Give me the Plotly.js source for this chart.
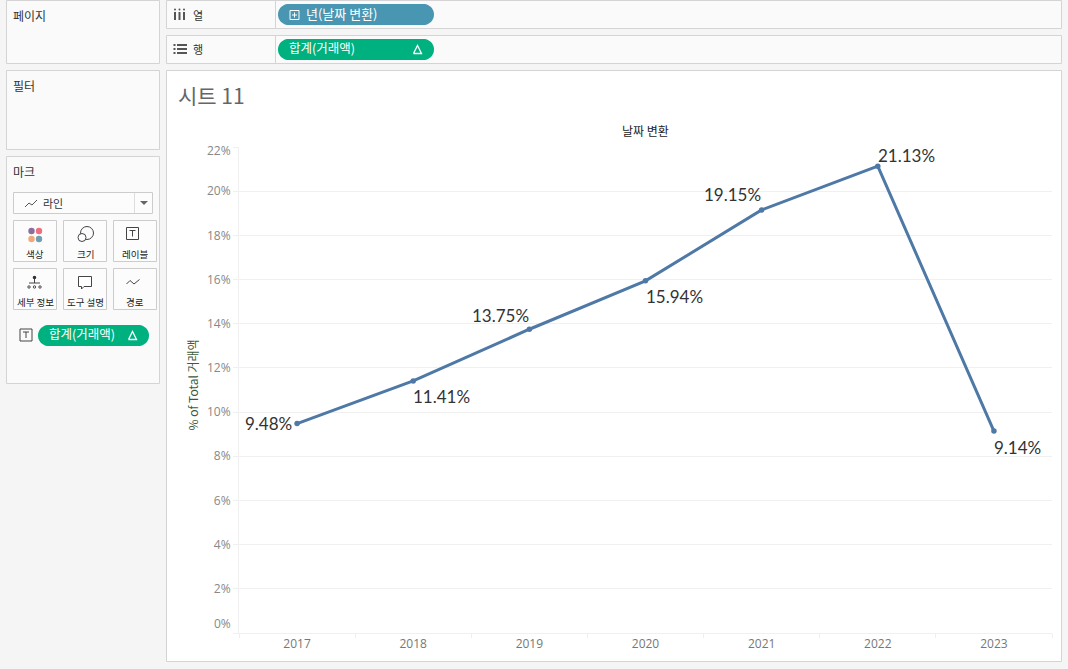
<!DOCTYPE html>
<html><head><meta charset="utf-8">
<script src="https://cdn.plot.ly/plotly-3.0.1.min.js"></script>
<style>html,body{margin:0;padding:0;background:#f5f5f5;overflow:hidden}#c{width:1068px;height:669px}</style>
</head><body><div id="c"></div>
<script>
const years = ['2017','2018','2019','2020','2021','2022','2023'];
const shares = [9.48,11.41,13.75,15.94,19.15,21.13,9.14];
const yTicks = [0,2,4,6,8,10,12,14,16,18,20,22];
const KR = '"Noto Sans CJK KR","Noto Sans",sans-serif';
const W=1068,H=669,L=239,R=1052,T=147,B=633;
const fx=p=>(p-L)/(R-L), fy=p=>(B-p)/(B-T);
const shapes=[],ann=[];
function box(x0,y0,x1,y1,fill,line){shapes.push({type:'rect',xref:'paper',yref:'paper',layer:'below',x0:fx(x0),x1:fx(x1),y0:fy(y0),y1:fy(y1),fillcolor:fill,line:{color:line||fill,width:line?1:0}});}
function seg(x0,y0,x1,y1,c,w){shapes.push({type:'line',xref:'paper',yref:'paper',x0:fx(x0),x1:fx(x1),y0:fy(y0),y1:fy(y1),line:{color:c,width:w||1}});}
function poly(pts,c,w,fill){shapes.push({type:'path',xref:'paper',yref:'paper',path:'M'+pts.map(p=>fx(p[0])+','+fy(p[1])).join('L')+(fill?'Z':''),fillcolor:fill||'rgba(0,0,0,0)',line:{color:c,width:w||0}});}
function dot(cx,cy,r,c,lc){shapes.push({type:'circle',xref:'paper',yref:'paper',x0:fx(cx-r),x1:fx(cx+r),y0:fy(cy+r),y1:fy(cy-r),fillcolor:c,line:{color:lc||c,width:lc?1:0}});}
function txt(x,y,s,size,color,anchor,extra){ann.push(Object.assign({xref:'paper',yref:'paper',x:fx(x),y:fy(y),text:s,showarrow:false,xanchor:anchor||'left',yanchor:'middle',font:{family:KR,size:size,color:color},borderpad:0,borderwidth:0},extra||{}));}
function pill(x0,y0,x1,y1,fill){const n=24,r=(y1-y0)/2,pts=[];
 for(let i=0;i<=n;i++){const a=-Math.PI/2+Math.PI*i/n;pts.push([x1-r+r*Math.cos(a),y0+r+r*Math.sin(a)]);}
 for(let i=0;i<=n;i++){const a=Math.PI/2+Math.PI*i/n;pts.push([x0+r+r*Math.cos(a),y0+r+r*Math.sin(a)]);}
 poly(pts,fill,0,fill);}
function tbox(x,y,s){poly([[x,y],[x+12,y],[x+12,y+12],[x,y+12],[x,y]],'#444',1);seg(x+3,y+3,x+9,y+3,'#444');seg(x+6,y+3,x+6,y+9,'#444');}
function tri(cx,cy){poly([[cx-4,cy+4],[cx+4,cy+4],[cx,cy-4],[cx-4,cy+4]],'#fff',1.3);}

// panels
box(6.5,0.5,159.5,63.5,'#fafafa','#d4d4d4');
box(6.5,70.5,159.5,149.5,'#fafafa','#d4d4d4');
box(6.5,156.5,159.5,383.5,'#fafafa','#d4d4d4');
box(166.5,0.5,1061.5,28.5,'#fafafa','#d4d4d4');
box(166.5,35.5,1061.5,63.5,'#fafafa','#d4d4d4');
seg(275.5,1,275.5,28,'#d4d4d4');seg(275.5,36,275.5,63,'#d4d4d4');
box(166.5,70.5,1061.5,661.5,'#ffffff','#d4d4d4');
txt(13,15.5,'페이지',12,'#333');txt(13,85.5,'필터',12,'#333');txt(13,171.5,'마크',12,'#333');
// shelves
for(const x of [175,179.5,184]){seg(x,12,x,20,'#555',2);dot(x,9.5,1,'#555');}
txt(193,14.5,'열',11,'#333');
for(const y of [45,49,53]){seg(177,y,187,y,'#555',2);seg(173.5,y,175.5,y,'#555',2);}
txt(193,49,'행',11,'#333');
pill(278,4,434,25,'#4996b2');pill(278,39,434,60,'#00b180');
poly([[290,10.5],[299,10.5],[299,19.5],[290,19.5],[290,10.5]],'#fff',1);seg(292,15,297,15,'#fff');seg(294.5,12.5,294.5,17.5,'#fff');
txt(306,13.5,'년(날짜 변환)',13,'#fff');
txt(289,48,'합계(거래액)',12.5,'#fff');tri(417.5,49.5);
// marks card
box(13.5,192.5,152.5,213.5,'#fcfcfc','#ccc');seg(134.5,193,134.5,213,'#ddd');
poly([[25,207],[29,203],[32,205],[37,200]],'#555',1);
txt(43,203,'라인',11,'#333');
poly([[140,201],[148,201],[144,205]],'#666',0,'#666');
const cards=[[13.5,220.5,'색상'],[63.5,220.5,'크기'],[113.5,220.5,'레이블'],[13.5,268.5,'세부 정보'],[63.5,268.5,'도구 설명'],[113.5,268.5,'경로']];
for(const c of cards){box(c[0],c[1],c[0]+43,c[1]+41,'#fcfcfc','#ccc');txt(c[0]+21.5,c[1]+33.5,c[2],9.5,'#222','center');}
dot(31.5,231,3.2,'#8a6f9d');dot(39,231,3.2,'#ef6f7e');dot(31.5,239,3.2,'#f0a87c');dot(39,239,3.2,'#6f9eb0');
dot(87,233,6.5,'rgba(0,0,0,0)','#444');dot(82,237.5,4,'#fff','#444');
tbox(126.5,227.5);
dot(34.5,277.5,1.8,'#333');seg(34.5,279,34.5,283,'#444');seg(29,283,40,283,'#444');
dot(29,287,1.2,'#fff','#444');dot(34.5,287,1.2,'#fff','#444');dot(40,287,1.2,'#fff','#444');
poly([[78.5,276.5],[91.5,276.5],[91.5,286.5],[84,286.5],[81.5,289],[81.5,286.5],[78.5,286.5]],'#444',1,'#fff');
poly([[126.5,284],[130,280.5],[134,284],[139.5,279.5]],'#444',1);
tbox(20,329);
pill(38,325,149,346,'#00b180');
txt(49,333.5,'합계(거래액)',12.5,'#fff');tri(132.5,335.5);
// sheet
txt(178,95,'시트 11',21,'#666');
txt(645.5,131,'날짜 변환',12,'#222','center');
txt(192,385.5,'% of Total 거래액',12,'#3d5a3d','center',{textangle:-90});
// shifted end labels
ann.push({xref:'paper',yref:'y',x:fx(232.5),y:0,yshift:10,text:'0%',showarrow:false,xanchor:'right',yanchor:'middle',font:{family:'"Open Sans",sans-serif',size:12,color:'#888'}});
ann.push({xref:'paper',yref:'y',x:fx(232.5),y:22,yshift:-3,text:'22%',showarrow:false,xanchor:'right',yanchor:'middle',font:{family:'"Open Sans",sans-serif',size:12,color:'#888'}});
// data labels: offsets from each point
const off=[[-29,0],[28,16],[-29,-14],[29,16],[-29,-15],[29,-11],[24,16]];
years.forEach((y,i)=>ann.push({xref:'x',yref:'y',x:i,y:shares[i],xshift:off[i][0],yshift:-off[i][1],text:shares[i].toFixed(2)+'%',showarrow:false,xanchor:'center',yanchor:'middle',font:{family:'Lato,"Open Sans",sans-serif',size:17,color:'#333'}}));

Plotly.newPlot('c',[{type:'scatter',mode:'lines+markers',x:years,y:shares,line:{color:'#4e79a7',width:3},marker:{color:'#4e79a7',size:5.5},hoverinfo:'skip',cliponaxis:false}],{
 width:W,height:H,paper_bgcolor:'#f5f5f5',plot_bgcolor:'rgba(0,0,0,0)',showlegend:false,
 margin:{l:L,r:W-R,t:T,b:H-B,pad:0},
 xaxis:{type:'category',categoryorder:'array',categoryarray:years,range:[-0.5,6.5],tickson:'boundaries',ticks:'outside',ticklen:4,tickcolor:'#eeeeee',showgrid:false,zeroline:false,showline:true,linecolor:'#f0f0f0',tickfont:{family:'"Open Sans",sans-serif',size:12,color:'#777'},fixedrange:true},
 yaxis:{range:[0,22],tickmode:'array',tickvals:yTicks,ticktext:yTicks.map(v=>(v===0||v===22)?'':v+'%'),ticks:'outside',ticklen:5,tickcolor:'#f0f0f0',showgrid:true,gridcolor:'#f0f0f0',zeroline:false,showline:true,linecolor:'#f0f0f0',tickfont:{family:'"Open Sans",sans-serif',size:12,color:'#888'},fixedrange:true},
 shapes:shapes,annotations:ann
},{displayModeBar:false,staticPlot:true});
</script></body></html>
